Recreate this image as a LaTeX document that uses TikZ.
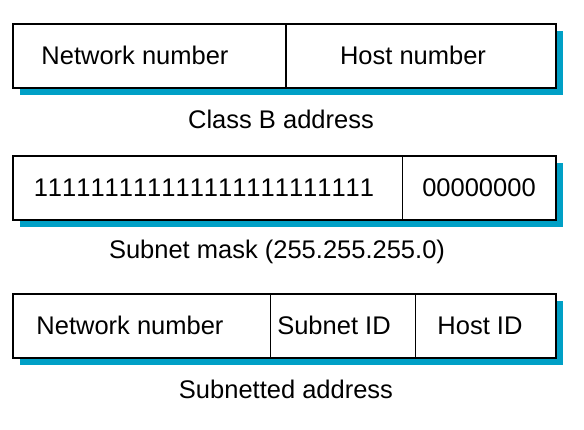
\documentclass[tikz,border=0pt]{standalone}
\usepackage{fontspec}
\setmainfont{Liberation Sans}
\newfontfamily\digitfont[Kerning=Off]{Liberation Sans}
\definecolor{shadowblue}{RGB}{0,160,198}
\tikzset{
  fieldtext/.style={anchor=base, inner sep=0pt, font=\fontsize{25.5}{30}\selectfont},
  bartitle/.style={fieldtext},
  bitstext/.style={fieldtext, font=\digitfont\fontsize{25.5}{30}\selectfont},
}
\newcommand{\octetones}{11111111}
\begin{document}
\begin{tikzpicture}[x=1pt,y=-1pt]
\pgfmathsetmacro{\barx}{13}
\pgfmathsetmacro{\barw}{543}
\pgfmathsetmacro{\barh}{64}
\pgfmathsetmacro{\shadow}{7}
\useasboundingbox (0,0) rectangle (584,429);
% class B address
\fill[shadowblue] (\barx+\shadow,24+\shadow) rectangle ++(\barw,\barh);
\draw[fill=white, line width=2pt] (\barx,24) rectangle ++(\barw,\barh);
\draw[line width=1.2pt] (286,24) -- ++(0,\barh);
\node[fieldtext] (netB) at (135,64) {Network number};
\node[fieldtext] (hostB) at (413,64) {Host number};
\node[bartitle] (classB) at (281,128) {Class B address};
% subnet mask
\fill[shadowblue] (\barx+\shadow,156+\shadow) rectangle ++(\barw,\barh);
\draw[fill=white, line width=2pt] (\barx,156) rectangle ++(\barw,\barh);
\draw[line width=1pt] (402.5,156) -- ++(0,\barh);
\node[bitstext] (ones) at (204,196) {\octetones\octetones\octetones};
\node[bitstext] (zeros) at (479,196) {00000000};
\node[bartitle] (mask) at (277,258) {Subnet mask (255.255.255.0)};
% subnetted address
\fill[shadowblue] (\barx+\shadow,294+\shadow) rectangle ++(\barw,\barh);
\draw[fill=white, line width=2pt] (\barx,294) rectangle ++(\barw,\barh);
\draw[line width=1pt] (270.5,294) -- ++(0,\barh);
\draw[line width=1pt] (415,294) -- ++(0,\barh);
\node[fieldtext] (netS) at (130,334) {Network number};
\node[fieldtext] (subnet) at (334,334) {Subnet ID};
\node[fieldtext] (hostS) at (480,334) {Host ID};
\node[bartitle] (subnetted) at (286,398) {Subnetted address};
\end{tikzpicture}
\end{document}
